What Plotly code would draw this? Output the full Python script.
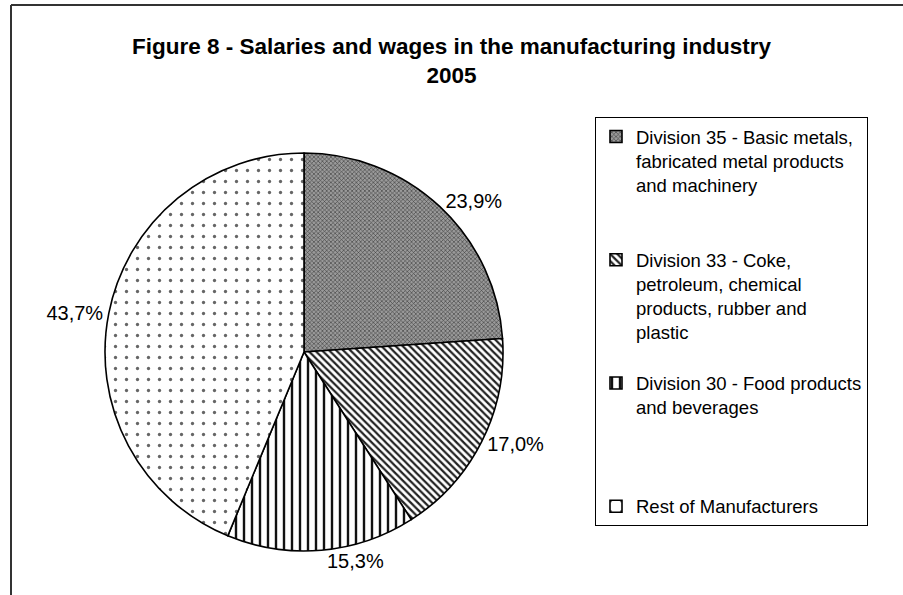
import plotly.graph_objects as go

# Data
categories = [
    "Division 35 - Basic metals,<br>fabricated metal products<br>and machinery",
    "Division 33 - Coke,<br>petroleum, chemical<br>products, rubber and<br>plastic",
    "Division 30 - Food products<br>and beverages",
    "Rest of Manufacturers",
]
shares = [23.9, 17.0, 15.3, 43.7]
# extra blank lines in legend entries to mimic Excel's even spacing
legend_pad = [2, 1, 3, 0]

labels_pct = [f"{v:.1f}%".replace(".", ",") for v in shares]
legend_labels = [c + "<br> " * p for c, p in zip(categories, legend_pad)]

W, H = 903, 595
cx, cy, r = 304, 352, 199
FONT = "Liberation Sans, Arial, sans-serif"

fig = go.Figure()
fig.add_trace(go.Pie(
    labels=legend_labels,
    values=shares,
    text=labels_pct,
    textinfo="text",
    textposition="outside",
    sort=False,
    direction="clockwise",
    rotation=0,
    hoverinfo="label+percent",
    marker=dict(
        colors=["#8a8a8a", "white", "white", "white"],
        line=dict(color="black", width=1.6),
        pattern=dict(
            shape=["x", "\\", "|", "."],
            fgcolor=["#3a3a3a", "#222222", "#111111", "#666666"],
            bgcolor=["#9a9a9a", "white", "white", "white"],
            size=[3, 5, 8, 11],
            solidity=[0.35, 0.45, 0.3, 0.07],
        ),
    ),
    textfont=dict(family=FONT, size=20, color="black"),
    domain=dict(x=[(cx - r) / W, (cx + r) / W], y=[1 - (cy + r) / H, 1 - (cy - r) / H]),
    showlegend=True,
))

fig.update_layout(
    width=W, height=H,
    margin=dict(l=0, r=0, t=0, b=0),
    paper_bgcolor="white",
    plot_bgcolor="white",
    title=dict(
        text="<b>Figure 8 - Salaries and wages in the manufacturing industry<br>2005</b>",
        x=0.5, xanchor="center",
        y=1 - 54 / H, yanchor="middle",
        font=dict(family=FONT, size=22.5, color="black"),
    ),
    legend=dict(
        x=595 / W, xanchor="left",
        y=1 - 117 / H, yanchor="top",
        bordercolor="black", borderwidth=1,
        bgcolor="white",
        font=dict(family=FONT, size=18.5, color="black"),
        valign="top",
        itemclick=False,
        itemwidth=30,
        tracegroupgap=0,
    ),
    shapes=[
        dict(type="line", xref="paper", yref="paper",
             x0=11 / W, x1=1, y0=1 - 5 / H, y1=1 - 5 / H,
             line=dict(color="#333333", width=2)),
        dict(type="line", xref="paper", yref="paper",
             x0=11 / W, x1=11 / W, y0=1 - 5 / H, y1=0,
             line=dict(color="#333333", width=2)),
    ],
)

fig.write_html("out.html", config={"displayModeBar": False},
               post_script="document.body.style.margin='0px';")
